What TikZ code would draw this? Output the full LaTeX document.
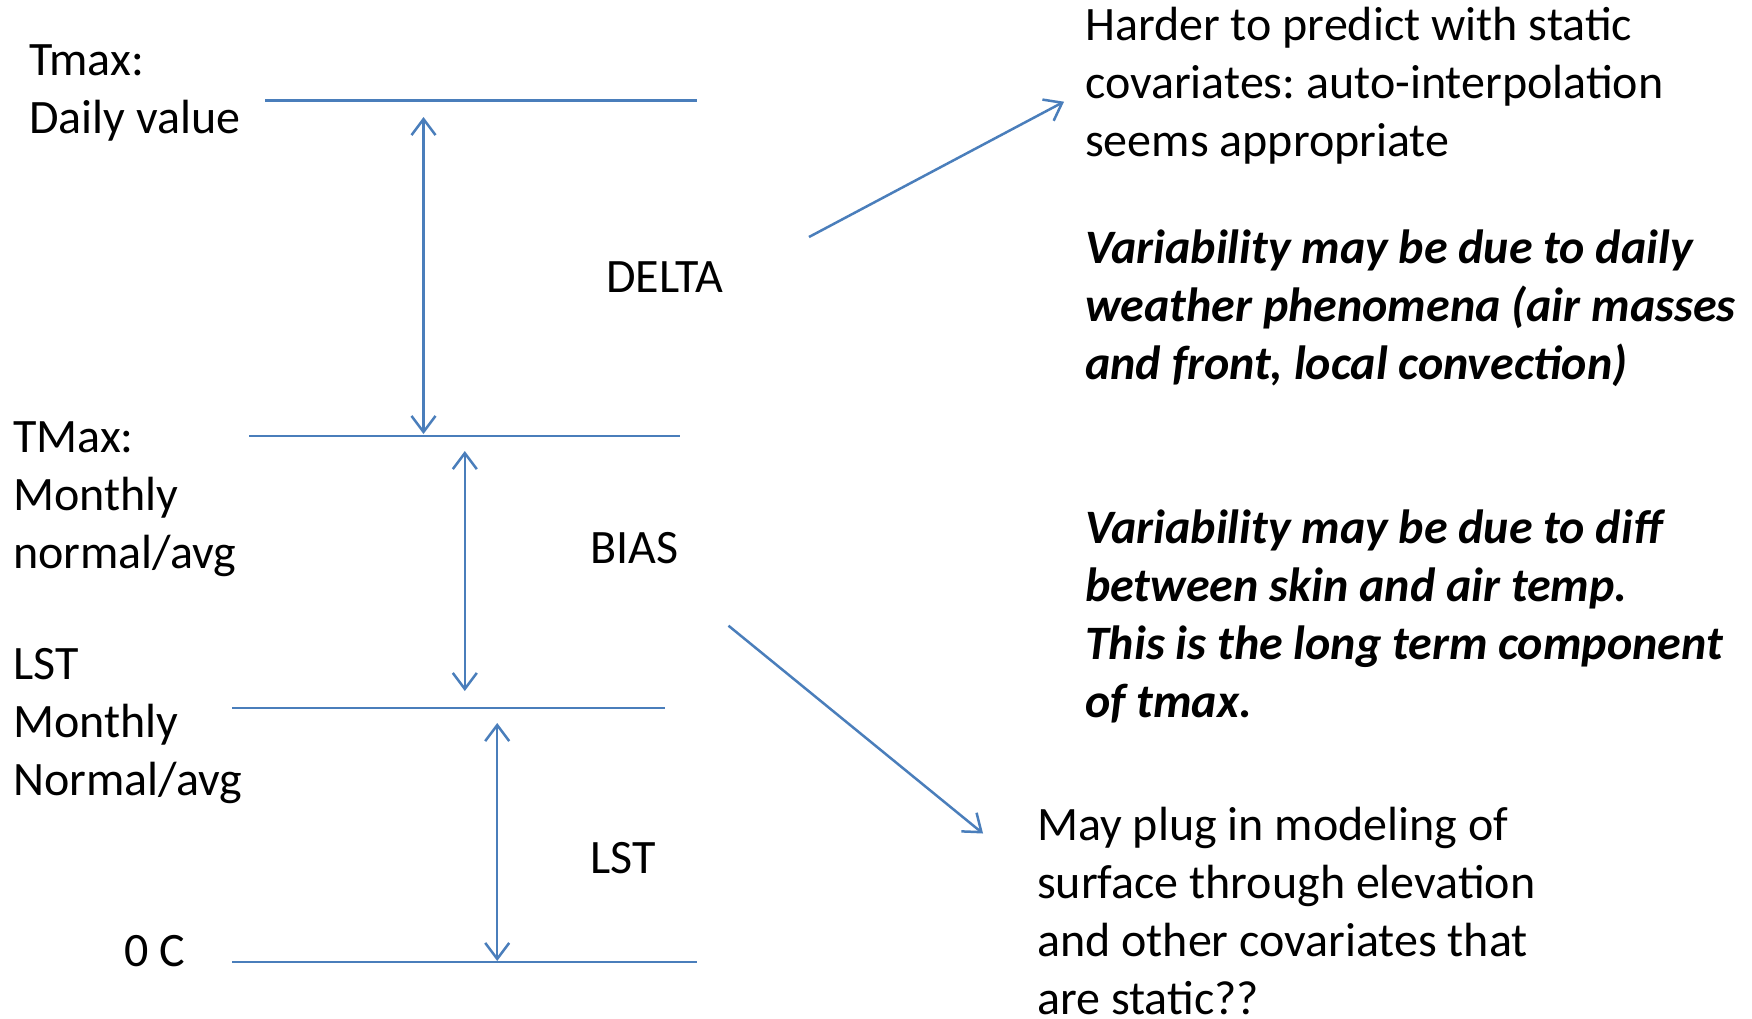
\documentclass[tikz,border=0pt]{standalone}
\usepackage{fontspec}
\setmainfont{Carlito}
\usetikzlibrary{arrows.meta}
\definecolor{lineblue}{HTML}{4A7EBB}
\frenchspacing
\tikzset{
  level/.style={draw=lineblue, line width=2.5pt},
  dimarrow/.style={draw=lineblue, line width=2.5pt, {Straight Barb[length=16pt,width=24pt]}-{Straight Barb[length=16pt,width=24pt]}},
  pointer/.style={draw=lineblue, line width=2.5pt, -{Straight Barb[length=16pt,width=24pt]}},
  txt/.style={inner sep=0pt, anchor=base west, align=left, font=\fontsize{48pt}{58pt}\selectfont\frenchspacing},
  btxt/.style={txt, font=\fontsize{48pt}{58pt}\selectfont\bfseries\itshape\frenchspacing},
}
\begin{document}
\begin{tikzpicture}[x=1pt,y=-1pt]
\useasboundingbox (0,0) rectangle (1752,1018);
% level lines
\coordinate (l1a) at (265,100.6); \coordinate (l1b) at (697,100.6);
\coordinate (l2a) at (249,436); \coordinate (l2b) at (680,436);
\coordinate (l3a) at (232,708); \coordinate (l3b) at (665,708);
\coordinate (l4a) at (232,962); \coordinate (l4b) at (697,962);
\draw[level] (l1a) -- (l1b);
\draw[level] (l2a) -- (l2b);
\draw[level] (l3a) -- (l3b);
\draw[level] (l4a) -- (l4b);
% dimension arrows
\coordinate (d1t) at (423.5,117); \coordinate (d1b) at (423.5,434);
\coordinate (d2t) at (464.8,451); \coordinate (d2b) at (464.8,691);
\coordinate (d3t) at (497.2,723); \coordinate (d3b) at (497.2,961);
\draw[dimarrow] (d1t) -- (d1b);
\draw[dimarrow] (d2t) -- (d2b);
\draw[dimarrow] (d3t) -- (d3b);
% left labels (anchor = baseline of last line)
\node[txt] (tmax) at (29,133) {Tmax:\\Daily value};
\node[txt] (tmaxm) at (13,568) {TMax:\\Monthly\\normal/avg};
\node[txt] (lstm) at (13,795) {LST\\Monthly\\Normal/avg};
\node[txt] (zero) at (124,966) {0 C};
% middle labels
\node[txt] (delta) at (606,292) {DELTA};
\node[txt] (bias) at (590,563) {BIAS};
\node[txt] (lst) at (590,873) {LST};
% right texts
\node[txt] (hard) at (1085,156) {Harder to predict with static\\covariates: auto-interpolation\\seems appropriate};
\node[btxt] (var1) at (1085,379) {Variability may be due to daily\\weather phenomena (air masses\\and front, local convection)};
\node[btxt] (var2) at (1085,717) {Variability may be due to diff\\between skin and air temp.\\This is the long term component\\of tmax.};
\node[txt] (plug) at (1037,1014) {May plug in modeling of\\surface through elevation\\and other covariates that\\are static??};
% pointers
\coordinate (p1s) at (809,237); \coordinate (p1e) at (1064,101.7);
\coordinate (p2s) at (728.5,625.7); \coordinate (p2e) at (983,833.5);
\draw[pointer] (p1s) -- (p1e);
\draw[pointer] (p2s) -- (p2e);
\end{tikzpicture}
\end{document}
